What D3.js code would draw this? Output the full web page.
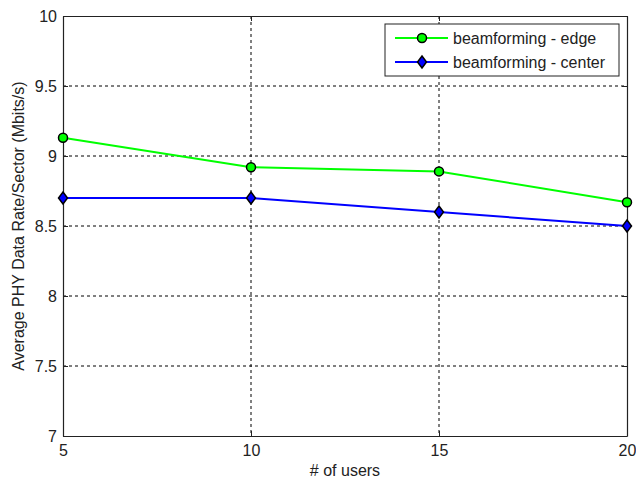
<!DOCTYPE html>
<html>
<head>
<meta charset="utf-8">
<script src="https://cdn.jsdelivr.net/npm/d3@7"></script>
<style>
  body { margin: 0; background: #fff; }
  text { font-family: "Liberation Sans", Arial, sans-serif; }
</style>
</head>
<body>
<div id="chart"></div>
<script>
// Data
const users = [5, 10, 15, 20];
const edgeRate = [9.13, 8.92, 8.89, 8.67];
const centerRate = [8.70, 8.70, 8.60, 8.50];
const xTicks = [5, 10, 15, 20];
const yTicks = [7, 7.5, 8, 8.5, 9, 9.5, 10];
const seriesNames = ["beamforming - edge", "beamforming - center"];

const svgWidth = 636;
const svgHeight = 480;
const margin = { top: 16, right: 9, bottom: 44, left: 63 };
const width = svgWidth - margin.left - margin.right;
const height = svgHeight - margin.top - margin.bottom;
const fontSize = 16;

const svg = d3.select("#chart")
  .append("svg")
  .attr("width", svgWidth)
  .attr("height", svgHeight);

const g = svg.append("g")
  .attr("transform", `translate(${margin.left}, ${margin.top})`);

const x = d3.scaleLinear().domain([5, 20]).range([0, width]);
const y = d3.scaleLinear().domain([7, 10]).range([height, 0]);

// grid
g.append("g")
  .selectAll("line")
  .data(xTicks.slice(1, -1))
  .join("line")
  .attr("x1", d => x(d)).attr("x2", d => x(d))
  .attr("y1", 0).attr("y2", height)
  .attr("stroke", "#000").attr("stroke-dasharray", "3,3");

g.append("g")
  .selectAll("line")
  .data(yTicks.slice(1, -1))
  .join("line")
  .attr("x1", 0).attr("x2", width)
  .attr("y1", d => y(d)).attr("y2", d => y(d))
  .attr("stroke", "#000").attr("stroke-dasharray", "3,3");

// axes (ticks inward)
const bottomAxis = d3.axisBottom(x).tickValues(xTicks).tickSizeInner(-5).tickSizeOuter(0).tickPadding(9);
const leftAxis = d3.axisLeft(y).tickValues(yTicks).tickFormat(d3.format("")).tickSizeInner(-5).tickSizeOuter(0).tickPadding(6);
const topAxis = d3.axisTop(x).tickValues(xTicks).tickSizeInner(-5).tickSizeOuter(0).tickFormat("");
const rightAxis = d3.axisRight(y).tickValues(yTicks).tickSizeInner(-5).tickSizeOuter(0).tickFormat("");

[
  g.append("g").attr("transform", `translate(0, ${height})`).call(bottomAxis),
  g.append("g").call(leftAxis),
  g.append("g").call(topAxis),
  g.append("g").attr("transform", `translate(${width}, 0)`).call(rightAxis)
].forEach(a => {
  a.select(".domain").attr("stroke", "#222").attr("stroke-width", 1.2);
  a.selectAll(".tick line").attr("stroke", "#222");
  a.selectAll(".tick text").attr("font-size", fontSize).attr("fill", "#222")
    .attr("font-family", "'Liberation Sans', Arial, sans-serif");
});

// axis labels
svg.append("text")
  .attr("x", margin.left + width / 2)
  .attr("y", 476)
  .attr("text-anchor", "middle")
  .attr("font-size", fontSize)
  .attr("fill", "#222")
  .text("# of users");

svg.append("text")
  .attr("transform", `translate(24, ${margin.top + height / 2}) rotate(-90)`)
  .attr("text-anchor", "middle")
  .attr("font-size", fontSize)
  .attr("fill", "#222")
  .text("Average PHY Data Rate/Sector (Mbits/s)");

// lines
const line = d3.line().x((d, i) => x(users[i])).y(d => y(d));

g.append("path").datum(edgeRate)
  .attr("fill", "none").attr("stroke", "#00ff00").attr("stroke-width", 2)
  .attr("d", line);

g.append("path").datum(centerRate)
  .attr("fill", "none").attr("stroke", "#0000ff").attr("stroke-width", 2)
  .attr("d", line);

const diamond = "M0,-6L4.5,0L0,6L-4.5,0Z";

g.selectAll("circle.edge")
  .data(edgeRate)
  .join("circle")
  .attr("class", "edge")
  .attr("cx", (d, i) => x(users[i])).attr("cy", d => y(d))
  .attr("r", 4.5)
  .attr("fill", "#00ff00").attr("stroke", "#000").attr("stroke-width", 1.5);

g.selectAll("path.center")
  .data(centerRate)
  .join("path")
  .attr("class", "center")
  .attr("transform", (d, i) => `translate(${x(users[i])}, ${y(d)})`)
  .attr("d", diamond)
  .attr("fill", "#0000ff").attr("stroke", "#000").attr("stroke-width", 1.5);

// legend
const legend = svg.append("g").attr("transform", "translate(385, 24)");
legend.append("rect")
  .attr("width", 234).attr("height", 52)
  .attr("fill", "#fff").attr("stroke", "#222").attr("stroke-width", 1);

const colors = ["#00ff00", "#0000ff"];
seriesNames.forEach((name, i) => {
  const row = legend.append("g").attr("transform", `translate(0, ${14 + i * 24})`);
  row.append("line")
    .attr("x1", 10).attr("x2", 63)
    .attr("stroke", colors[i]).attr("stroke-width", 2);
  if (i === 0) {
    row.append("circle").attr("cx", 37).attr("r", 4.5)
      .attr("fill", colors[i]).attr("stroke", "#000").attr("stroke-width", 1.5);
  } else {
    row.append("path").attr("transform", "translate(37,0)").attr("d", diamond)
      .attr("fill", colors[i]).attr("stroke", "#000").attr("stroke-width", 1.5);
  }
  row.append("text")
    .attr("x", 68).attr("y", 6)
    .attr("font-size", fontSize).attr("fill", "#222")
    .text(name);
});
</script>
</body>
</html>
